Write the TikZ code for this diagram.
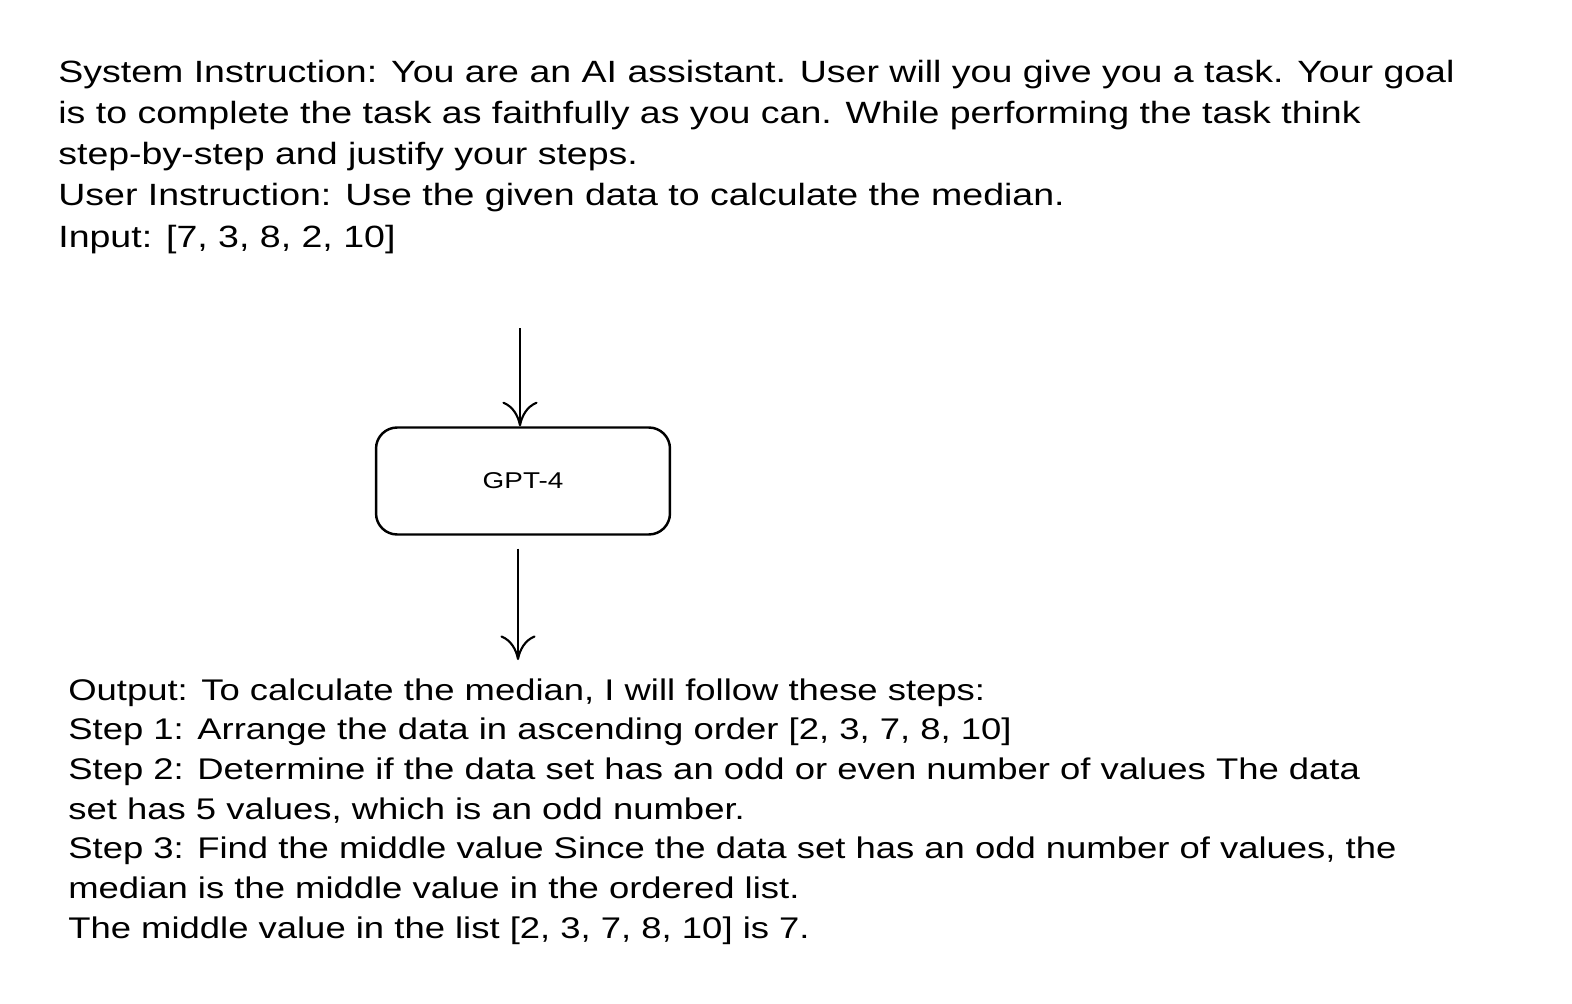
\documentclass[tikz,border=0pt]{standalone}
\usepackage{fontspec}
\setmainfont[FakeStretch=1.22]{Liberation Sans}
\usetikzlibrary{positioning,arrows.meta}
\tikzset{
  para/.style={anchor=north west, align=left, inner sep=0pt, font=\fontsize{17.5}{23.4}\selectfont},
  model/.style={draw, line width=1.4pt, rounded corners=12pt, minimum width=5.88cm, minimum height=2.14cm, font=\fontsize{13}{15}\selectfont},
  flow/.style={->, line width=1.2pt, >={To[length=14pt,width=20pt]}}
}
\begin{document}
\begin{tikzpicture}[x=0.02cm,y=-0.02cm]
\useasboundingbox (0,0) rectangle (1572,1004);
\node[para] (prompt) at (58,60) {System Instruction: You are an AI assistant. User will you give you a task. Your goal\\
is to complete the task as faithfully as you can. While performing the task think\\
step-by-step and justify your steps.\\
User Instruction: Use the given data to calculate the median.\\
Input: [7, 3, 8, 2, 10]};
\node[model] (gpt) at (523,481) {GPT-4};
\coordinate (in) at (520,328);
\coordinate (out) at (518,660);
\draw[flow] (in) -- (gpt.north -| in);
\draw[flow] (gpt.south -| out) ++(0,13) -- (out);
\node[para, font=\fontsize{17}{22.6}\selectfont] (answer) at (68,678) {Output: To calculate the median, I will follow these steps:\\
Step 1: Arrange the data in ascending order [2, 3, 7, 8, 10]\\
Step 2: Determine if the data set has an odd or even number of values The data\\
set has 5 values, which is an odd number.\\
Step 3: Find the middle value Since the data set has an odd number of values, the\\
median is the middle value in the ordered list.\\
The middle value in the list [2, 3, 7, 8, 10] is 7.};
\end{tikzpicture}
\end{document}
